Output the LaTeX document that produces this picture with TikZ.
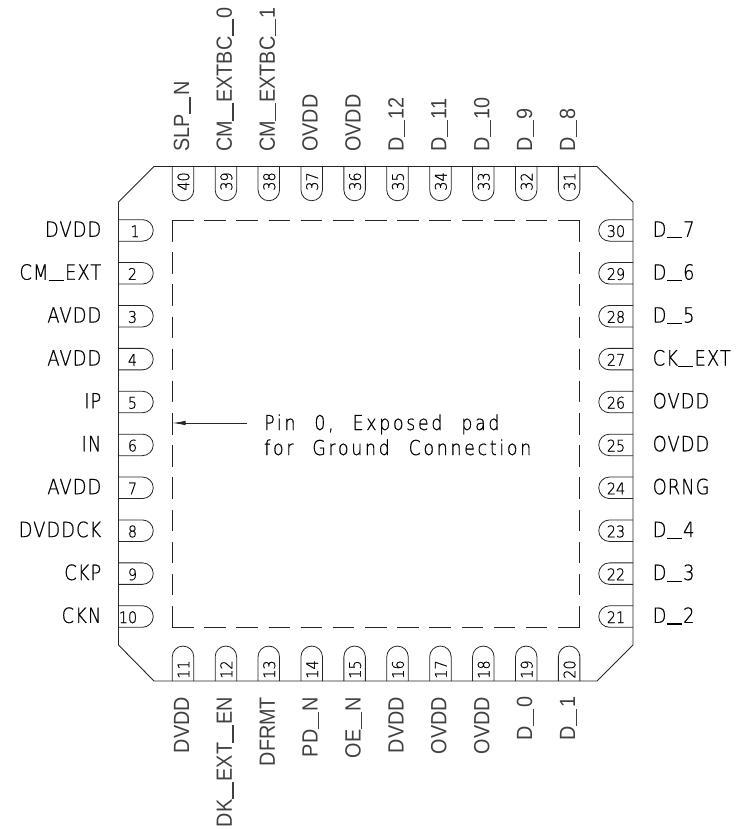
\documentclass[tikz,border=0pt]{standalone}
\usepackage{fontspec}
\newfontfamily\lblfont[FakeStretch=0.85,LetterSpace=5,FakeBold=0.6]{DejaVu Sans ExtraLight}
\newfontfamily\notefont[FakeStretch=0.85,LetterSpace=13,WordSpace=2.3,FakeBold=0.6]{DejaVu Sans ExtraLight}
\newfontfamily\numfont[FakeStretch=0.9,FakeBold=0.6]{DejaVu Sans ExtraLight}
\newfontfamily\rotfont[FakeStretch=0.9]{Liberation Sans}
\newcommand{\usH}{\kern0.5pt\rule[-1.6pt]{15pt}{1.1pt}\kern1.2pt}
\newcommand{\usV}{\kern0.3pt\rule[-1.6pt]{17.5pt}{1.2pt}\kern0.6pt}
\usetikzlibrary{arrows.meta}
\tikzset{
  x=1pt,y=-1pt,
  outline/.style={line width=0.9pt,draw=black!85},
  pinshape/.style={line width=0.8pt,draw=black!85},
  padbox/.style={line width=0.9pt,draw=black!85,dash pattern=on 21.5pt off 10.67pt},
  lbl/.style={inner sep=0pt,font=\lblfont\fontsize{21}{21}\selectfont\let\us\usH,text=black},
  rotlbl/.style={inner sep=0pt,font=\rotfont\fontsize{22}{22}\selectfont\let\us\usV,text=black!75},
  notelbl/.style={inner sep=0pt,font=\notefont\fontsize{20.5}{20.5}\selectfont,text=black},
  num/.style={inner sep=0pt,font=\numfont\fontsize{16}{16}\selectfont,text=black},
}
\def\pitch{42.9}
\begin{document}
\begin{tikzpicture}
\useasboundingbox (0,0) rectangle (738,829);
% package outline
\draw[outline] (154,166.5) -- (597,166.5) -- (633,202) -- (633,645) -- (597,681) -- (154,681) -- (118.5,645) -- (118.5,202) -- cycle;
% exposed pad
\coordinate (tl) at (172,220);
\coordinate (tr) at (579.5,220);
\coordinate (br) at (579.5,627.5);
\coordinate (bl) at (172,627.5);
\draw[padbox] (tl) -- (tr);
\draw[padbox] (tl) -- (bl);
\draw[padbox] (bl) -- (br);
\draw[padbox] (tr) -- (br);
% left pins
\foreach \n/\t [count=\i from 0] in {1/DVDD,2/CM\us EXT,3/AVDD,4/AVDD,5/IP,6/IN,7/AVDD,8/DVDDCK,9/CKP,10/CKN}{
  \pgfmathsetmacro\yy{230.4+\i*\pitch}
  \draw[pinshape] (118.5,\yy-10.75) -- (142.5,\yy-10.75) arc[start angle=90,end angle=-90,radius=10.75pt] -- (118.5,\yy+10.75);
  \node[num,anchor=base] (pl\n) at (\ifnum\n=10 128\else\ifnum\n=1 135\else 132.5\fi\fi,\yy+6.6) {\n};
  \node[lbl,anchor=base east] (ll\n) at (101.5,\yy+6.4) {\t};
}
% right pins
\foreach \n/\t [count=\i from 0] in {30/D\us 7,29/D\us 6,28/D\us 5,27/CK\us EXT,26/OVDD,25/OVDD,24/ORNG,23/D\us 4,22/D\us 3,21/D\us 2}{
  \pgfmathsetmacro\yy{230.4+\i*\pitch}
  \draw[pinshape] (633,\yy-10.75) -- (609.5,\yy-10.75) arc[start angle=90,end angle=270,radius=10.75pt] -- (633,\yy+10.75);
  \node[num,anchor=base] (pr\n) at (616,\yy+6.6) {\n};
  \node[lbl,anchor=base west] (lr\n) at (652.5,\yy+6.4) {\t};
}
% top pins
\foreach \n/\t [count=\i from 0] in {40/SLP\us N,39/CM\us EXTBC\us 0,38/CM\us EXTBC\us 1,37/OVDD,36/OVDD,35/D\us 12,34/D\us 11,33/D\us 10,32/D\us 9,31/D\us 8}{
  \pgfmathsetmacro\xx{183+\i*\pitch}
  \draw[pinshape] (\xx-10.75,166.5) -- (\xx-10.75,190) arc[start angle=180,end angle=360,radius=10.75pt] -- (\xx+10.75,166.5);
  \node[num,anchor=base,rotate=90] (pt\n) at (\xx+6.3,181.5) {\n};
  \node[rotlbl,anchor=base west,rotate=90] (lt\n) at (\xx+6,152) {\t};
}
% bottom pins
\foreach \n/\t [count=\i from 0] in {11/DVDD,12/DK\us EXT\us EN,13/DFRMT,14/PD\us N,15/OE\us N,16/DVDD,17/OVDD,18/OVDD,19/D\us 0,20/D\us 1}{
  \pgfmathsetmacro\xx{183+\i*\pitch}
  \draw[pinshape] (\xx-10.75,681) -- (\xx-10.75,656.8) arc[start angle=180,end angle=0,radius=10.75pt] -- (\xx+10.75,681);
  \node[num,anchor=base,rotate=90] (pb\n) at (\xx+6.3,669.5) {\n};
  \node[rotlbl,anchor=base east,rotate=90] (lb\n) at (\xx+6,696.7) {\t};
}
% note
\node[notelbl,anchor=base west] (noteA) at (264,430) {Pin 0, Exposed pad};
\node[notelbl,anchor=base west] (noteB) at (264,455) {for Ground Connection};
\coordinate (padedge) at (172.5,423);
\coordinate (tail) at (247,423);
\draw[line width=0.8pt,draw=black!85,-{Latex[length=13pt,width=4.5pt]}] (tail) -- (padedge);
\end{tikzpicture}
\end{document}
